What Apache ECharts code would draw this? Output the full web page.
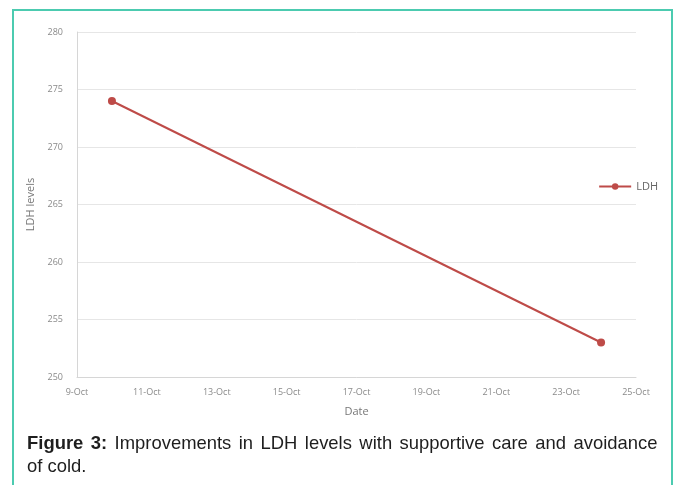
<!DOCTYPE html>
<html>
<head>
<meta charset="utf-8">
<script src="https://cdn.jsdelivr.net/npm/echarts@6/dist/echarts.min.js"></script>
<style>
  html, body { margin: 0; padding: 0; background: #fff; }
  #wrap { position: relative; width: 677px; height: 485px; overflow: hidden; }
  #frame {
    position: absolute; left: 12px; top: 9px; width: 661px; height: 500px;
    border: 2px solid #4ccbb0; box-sizing: border-box;
  }
  #chart { position: absolute; left: 0; top: 0; width: 677px; height: 485px; }
  .cap {
    position: absolute; left: 27px; width: 650px;
    transform: scaleX(0.97); transform-origin: 0 0;
    font-family: "Liberation Sans", Arial, sans-serif;
    font-size: 19px; line-height: 23px; color: #1e1e1e; white-space: nowrap;
  }
  #cap1 { top: 431px; text-align: justify; text-align-last: justify; }
  #cap2 { top: 454px; }
  .cap b { font-weight: bold; }
</style>
</head>
<body>
<div id="wrap">
  <div id="chart"></div>
  <div id="frame"></div>
  <div class="cap" id="cap1"><b>Figure 3:</b> Improvements in LDH levels with supportive care and avoidance</div>
  <div class="cap" id="cap2">of cold.</div>
</div>
<script>
// Day of October for each measurement, and the LDH value on that day
const days = [10, 24];
const ldh = [274, 253];
const seriesName = 'LDH';
const monthLabel = 'Oct';

const chart = echarts.init(document.getElementById('chart'), null, { renderer: 'canvas' });

const tickFont = { fontFamily: '"Open Sans", "DejaVu Sans", sans-serif', fontSize: 9, color: '#8a8a8a' };

chart.setOption({
  animation: false,
  backgroundColor: 'transparent',
  grid: { left: 77, right: 41, top: 32, bottom: 108, containLabel: false },
  legend: {
    data: [seriesName],
    right: 14, top: 176,
    itemWidth: 32, itemHeight: 8, itemGap: 4,
    textStyle: { fontFamily: '"Open Sans", sans-serif', fontSize: 11, color: '#666' }
  },
  xAxis: {
    type: 'value',
    min: 9, max: 25, interval: 2,
    name: 'Date', nameLocation: 'middle', nameGap: 29,
    nameTextStyle: { fontFamily: '"Open Sans", sans-serif', fontSize: 11, color: '#777' },
    axisLine: { show: true, lineStyle: { color: '#d6d6d6', width: 1 } },
    axisTick: { show: false },
    splitLine: { show: false },
    axisLabel: Object.assign({ margin: 11, formatter: v => v + '-' + monthLabel }, tickFont)
  },
  yAxis: {
    type: 'value',
    min: 250, max: 280, interval: 5,
    name: 'LDH levels', nameLocation: 'middle', nameGap: 36, nameRotate: 90,
    nameTextStyle: { fontFamily: '"Open Sans", sans-serif', fontSize: 11, color: '#777' },
    axisLine: { show: true, lineStyle: { color: '#d6d6d6', width: 1 } },
    axisTick: { show: false },
    splitLine: { show: true, lineStyle: { color: '#e6e6e6', width: 1 } },
    axisLabel: Object.assign({ margin: 14 }, tickFont)
  },
  series: [{
    name: seriesName,
    type: 'line',
    data: days.map((d, i) => [d, ldh[i]]),
    symbol: 'circle', symbolSize: 8,
    lineStyle: { color: '#be4b48', width: 2 },
    itemStyle: { color: '#be4b48' }
  }]
});
</script>
</body>
</html>
